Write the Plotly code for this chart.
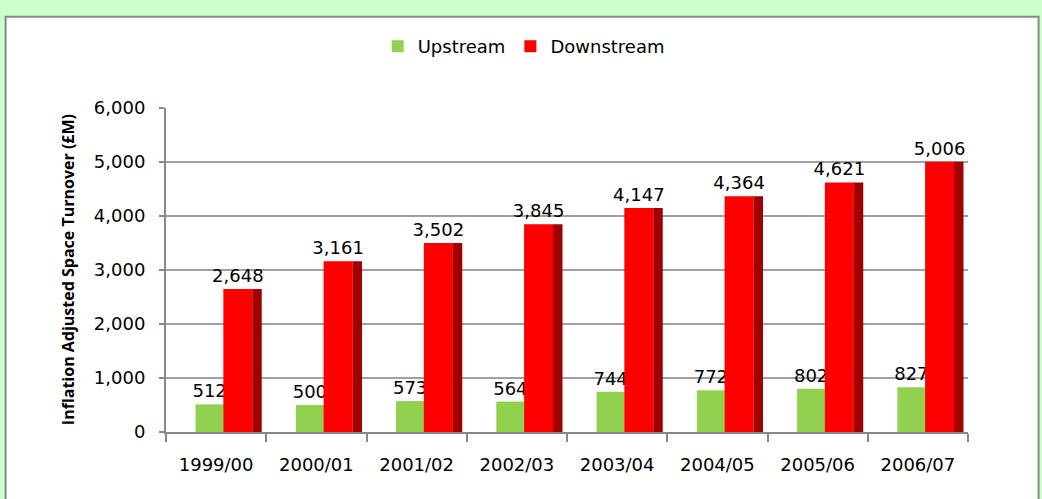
import plotly.graph_objects as go

# Space turnover by year, inflation adjusted (GBP millions)
years = ["1999/00", "2000/01", "2001/02", "2002/03",
         "2003/04", "2004/05", "2005/06", "2006/07"]
upstream = [512, 500, 573, 564, 744, 772, 802, 827]
downstream = [2648, 3161, 3502, 3845, 4147, 4364, 4621, 5006]

y_ticks = [0, 1000, 2000, 3000, 4000, 5000, 6000]

GREEN = "#92D050"
RED = "#FF0000"
RED_SIDE = "#A00000"
FONT = "DejaVu Sans"


def main():
    fig = go.Figure()

    # green bars
    fig.add_trace(go.Bar(
        x=years, y=upstream, name="Upstream",
        marker=dict(color=GREEN, line=dict(width=0)),
        offset=-0.205, width=0.28,
        text=[f"{v:,}" for v in upstream], textposition="outside",
        constraintext="none",
        textfont=dict(family=FONT, size=18, color="#000000"),
        cliponaxis=False,
    ))

    # darker side of the red bars for a bit of depth
    fig.add_trace(go.Bar(
        x=years, y=downstream, showlegend=False, hoverinfo="skip",
        marker=dict(color=RED_SIDE, line=dict(width=0)),
        offset=0.36, width=0.095,
    ))

    fig.add_trace(go.Bar(
        x=years, y=downstream, name="Downstream",
        marker=dict(color=RED, line=dict(width=0)),
        offset=0.072, width=0.29,
        text=[f"{v:,}" for v in downstream], textposition="outside",
        constraintext="none",
        textfont=dict(family=FONT, size=18, color="#000000"),
        cliponaxis=False,
    ))

    fig.update_layout(
        width=1042, height=499,
        margin=dict(l=166, r=74, t=108, b=67),
        barmode="overlay",
        paper_bgcolor="#CCFFCC",
        plot_bgcolor="rgba(0,0,0,0)",
        font=dict(family=FONT, size=18, color="#000000"),
        legend=dict(orientation="h", x=0.446, xanchor="center",
                    y=1.19, yanchor="middle",
                    font=dict(family=FONT, size=18),
                    bgcolor="rgba(0,0,0,0)", itemwidth=30),
        xaxis=dict(
            type="category", showgrid=False,
            showline=True, linecolor="#888888", linewidth=2,
            ticks="outside", tickson="boundaries", ticklen=8,
            tickcolor="#888888", tickwidth=2,
            ticklabelstandoff=15,
            tickfont=dict(family=FONT, size=18),
        ),
        yaxis=dict(
            range=[0, 6000], tickvals=y_ticks, tickformat=",",
            showgrid=True, gridcolor="#A0A0A0", gridwidth=1.5,
            showline=True, linecolor="#888888", linewidth=2,
            ticks="outside", ticklen=5, tickcolor="#888888", tickwidth=2,
            ticklabelstandoff=10, zeroline=False,
            tickfont=dict(family=FONT, size=18),
        ),
        # white chart panel on the green page
        shapes=[dict(
            type="rect", xref="paper", yref="paper", layer="below",
            x0=-0.2, x1=1.088, y0=-0.3, y1=1.282,
            fillcolor="#FFFFFF", line=dict(color="#888888", width=2),
        )],
        annotations=[dict(
            text="<b>Inflation Adjusted Space Turnover (£M)</b>",
            xref="paper", yref="paper", x=-0.122, y=0.5,
            xanchor="center", yanchor="middle", textangle=-90,
            showarrow=False,
            font=dict(family="Open Sans", size=16, color="#000000"),
        )],
    )

    # drop the page's default body margin so the figure sits at 0,0
    fig.write_html("out.html",
                   config={"displayModeBar": False},
                   post_script="document.body.style.margin='0';")


if __name__ == "__main__":
    main()
